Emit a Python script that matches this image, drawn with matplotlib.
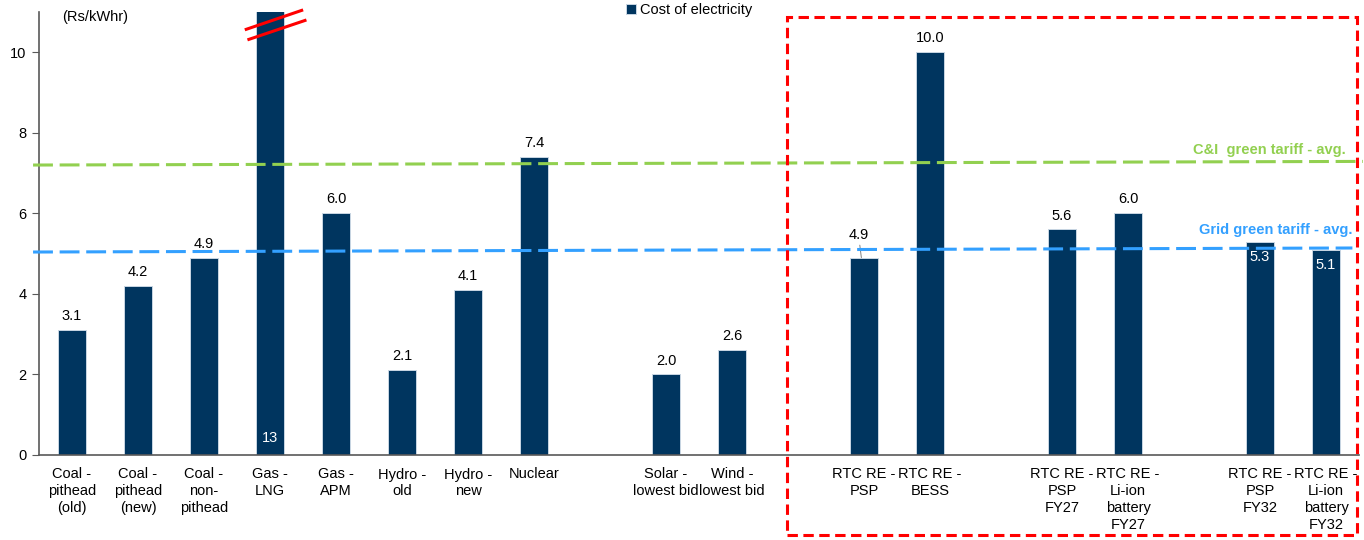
import matplotlib.pyplot as plt
import numpy as np
from matplotlib.patches import Rectangle

plt.rcParams['font.family'] = ['Liberation Sans', 'DejaVu Sans']

# cost per source; empty slots separate the groups
categories = ['Coal -\npithead\n(old)', 'Coal -\npithead\n(new)', 'Coal -\nnon-\npithead',
              'Gas -\nLNG', 'Gas -\nAPM', 'Hydro -\nold', 'Hydro -\nnew', 'Nuclear', '',
              'Solar -\nlowest bid', 'Wind -\nlowest bid', '',
              'RTC RE -\nPSP', 'RTC RE -\nBESS', '', 'RTC RE -\nPSP\nFY27',
              'RTC RE -\nLi-ion\nbattery\nFY27', '', 'RTC RE -\nPSP\nFY32',
              'RTC RE -\nLi-ion\nbattery\nFY32']
cost = [3.1, 4.2, 4.9, 13, 6.0, 2.1, 4.1, 7.4, np.nan,
        2.0, 2.6, np.nan,
        4.9, 10.0, np.nan, 5.6, 6.0, np.nan, 5.3, 5.1]

# average green tariffs (start, end of the line)
ci_tariff = [7.20, 7.29]
grid_tariff = [5.04, 5.14]

bar_col = '#00355f'
green = '#92d050'
blue = '#33a0ff'

fig = plt.figure(figsize=(13.64, 5.4), dpi=100)
ax = fig.add_axes([39 / 1364, 85 / 540, 1320 / 1364, 443 / 540])

x = np.arange(len(categories))
heights = np.array(cost, dtype=float)
ax.bar(x, heights, width=0.41, color=bar_col, edgecolor='#c9d6e3', linewidth=0.7,
       label='Cost of electricity', zorder=2)

ymax = 11
ax.set_xlim(-0.5, len(categories) - 0.5)
ax.set_ylim(0, ymax)
ax.set_yticks([0, 2, 4, 6, 8, 10])
ax.set_xticks(x)
ax.set_xticklabels(categories, fontsize=10.5, linespacing=1.25)
ax.tick_params(axis='x', length=0, pad=9)
ax.tick_params(axis='y', length=5, labelsize=10.5, color='#595959', pad=4)
for s in ['top', 'right']:
    ax.spines[s].set_visible(False)
for s in ['left', 'bottom']:
    ax.spines[s].set_color('#595959')
    ax.spines[s].set_linewidth(1.2)

# value labels
inside = {18, 19}
for i, v in enumerate(heights):
    if np.isnan(v):
        continue
    if v > ymax:
        ax.text(i, 0.25, '%g' % v, color='white', ha='center', va='bottom', fontsize=10.5)
    elif i in inside:
        ax.annotate('%.1f' % v, (i, v), xytext=(0, -6), textcoords='offset points',
                    ha='center', va='top', color='white', fontsize=10.5, zorder=5)
    elif i == 12:
        ax.annotate('%.1f' % v, (i - 0.04, v), xytext=(-2, 11), textcoords='offset points',
                    ha='center', va='bottom', fontsize=10.5,
                    arrowprops=dict(arrowstyle='-', color='#808080', lw=0.7,
                                    shrinkA=0, shrinkB=0))
    else:
        ax.annotate('%.1f' % v, (i, v), xytext=(0, 5), textcoords='offset points',
                    ha='center', va='bottom', fontsize=10.5)

# break marks on the clipped LNG bar
ax.plot([2.64, 3.48], [10.57, 11.04], color='red', lw=2.2, clip_on=False, zorder=4)
ax.plot([2.68, 3.53], [10.32, 10.79], color='red', lw=2.2, clip_on=False, zorder=4)

# tariff lines, slightly sloped across the whole axis
xl = ax.get_xlim()
ax.plot([xl[0] - 0.09, xl[1] + 0.06], ci_tariff, color=green, lw=2.2, dashes=(6.5, 2.2),
        clip_on=False, zorder=3)
ax.plot([xl[0] - 0.09, xl[1] - 0.1], grid_tariff, color=blue, lw=2.2, dashes=(6.5, 2.2),
        clip_on=False, zorder=3)
ax.text(19.30, 7.58, 'C&I  green tariff - avg.', color=green, fontweight='bold',
        fontsize=10.5, ha='right', va='center')
ax.text(19.40, 5.58, 'Grid green tariff - avg.', color=blue, fontweight='bold',
        fontsize=10.5, ha='right', va='center')

fig.text(62 / 1364, 1 - 17 / 540, '(Rs/kWhr)', fontsize=10.5, va='center')

ax.legend(loc='upper left', bbox_to_anchor=(620 / 1364, 1 + 3 / 540),
          bbox_transform=fig.transFigure, frameon=False, fontsize=10.5,
          handlelength=0.7, handleheight=0.7, handletextpad=0.3, borderaxespad=0)

# dashed frame around the round-the-clock options
fig.patches.append(Rectangle((787 / 1364, 1 - 535 / 540), 570 / 1364, 518 / 540,
                             transform=fig.transFigure, fill=False, edgecolor='red',
                             lw=2.2, linestyle=(0, (3.4, 1.8)), zorder=10))

fig.savefig('out.png', dpi=100)
